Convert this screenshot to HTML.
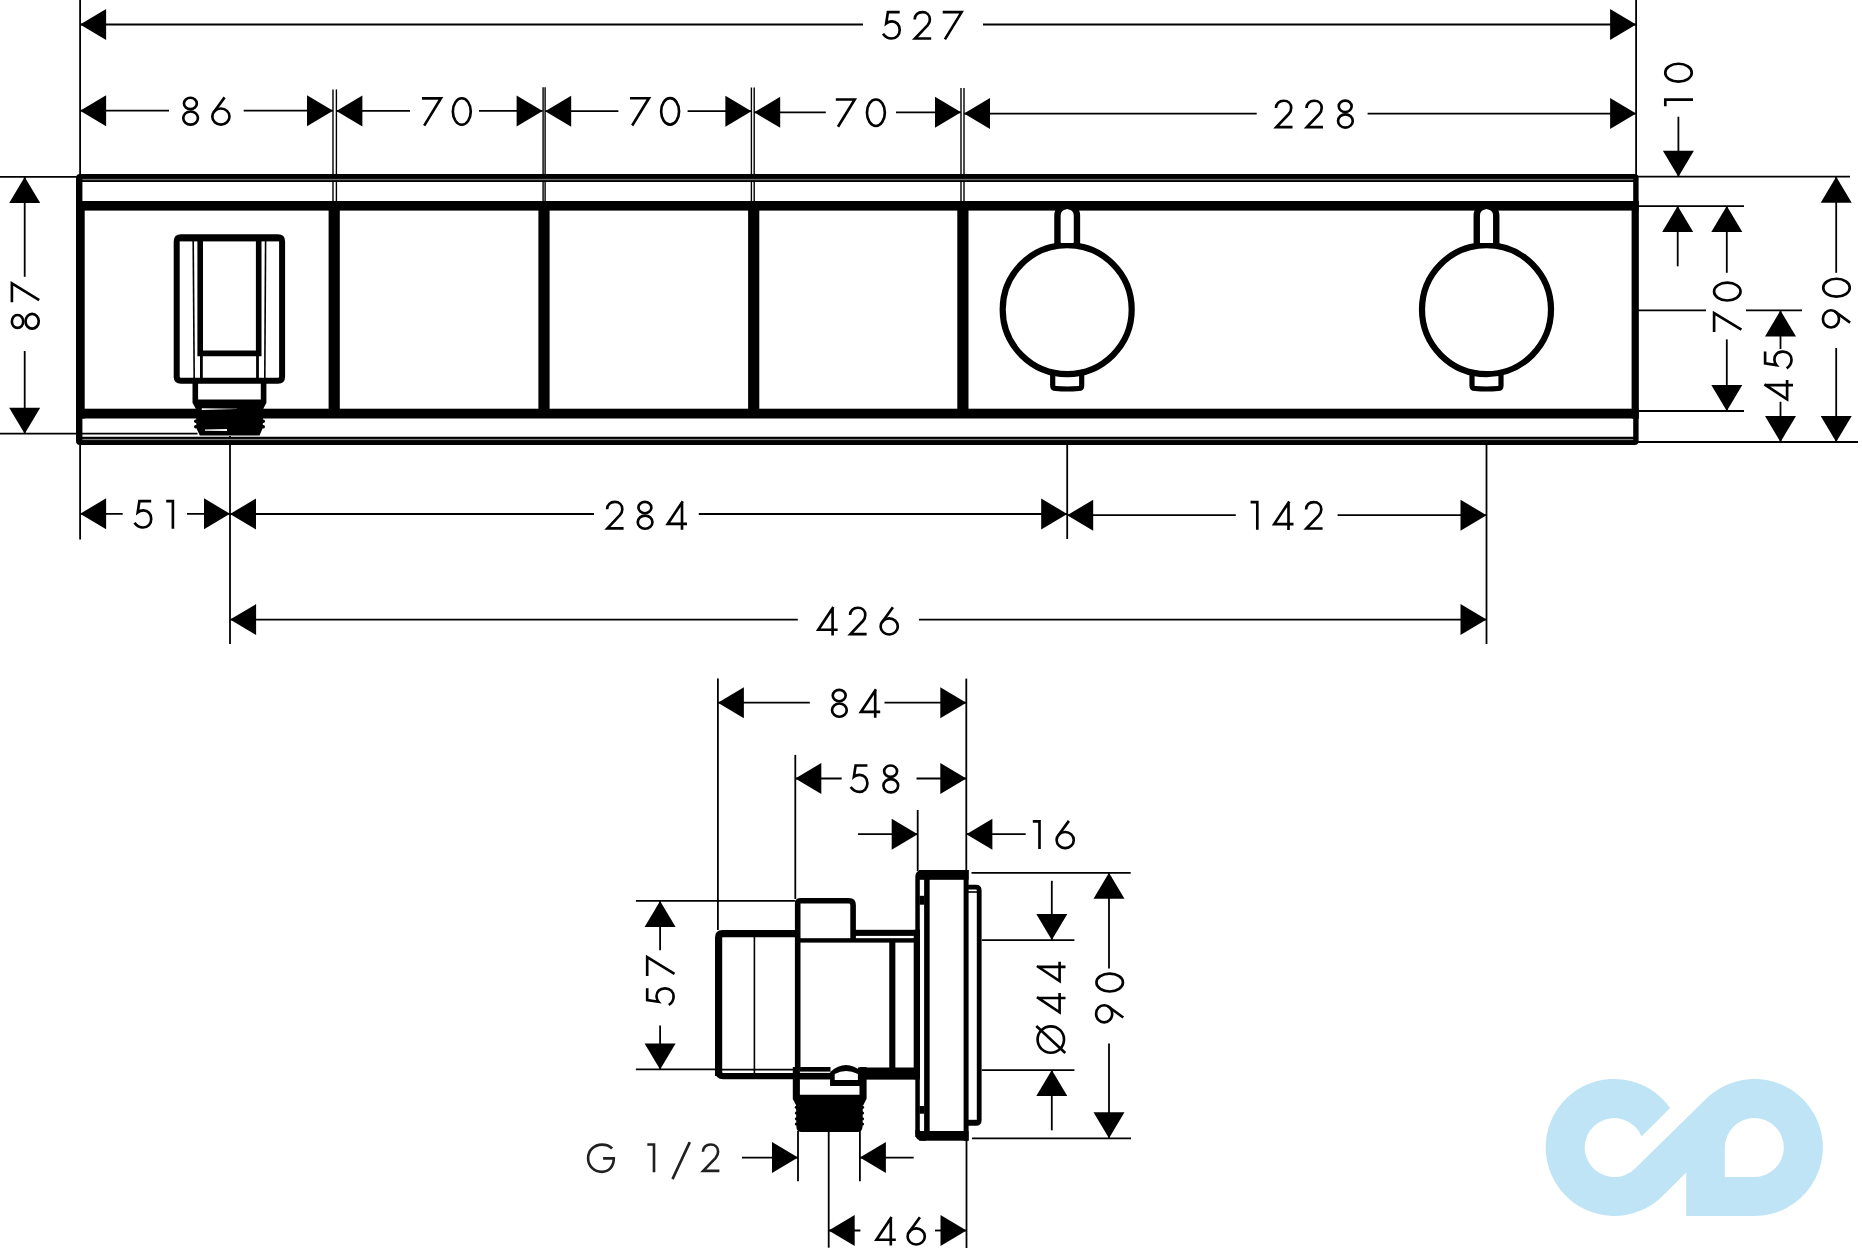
<!DOCTYPE html>
<html><head><meta charset="utf-8"><title>Drawing</title>
<style>html,body{margin:0;padding:0;background:#fff;overflow:hidden;font-family:"Liberation Sans",sans-serif}
svg{display:block}</style></head>
<body>
<svg width="1862" height="1256" viewBox="0 0 1862 1256"><line x1="80.1" y1="0" x2="80.1" y2="176" stroke="#000" stroke-width="1.8" stroke-linecap="butt"/>
<line x1="80.1" y1="444" x2="80.1" y2="539.5" stroke="#000" stroke-width="1.8" stroke-linecap="butt"/>
<line x1="1636.1" y1="0" x2="1636.1" y2="176" stroke="#000" stroke-width="1.8" stroke-linecap="butt"/>
<line x1="333" y1="89.4" x2="333" y2="201" stroke="#000" stroke-width="1.4" stroke-linecap="butt"/>
<line x1="336.4" y1="89.4" x2="336.4" y2="201" stroke="#000" stroke-width="1.4" stroke-linecap="butt"/>
<line x1="543.1" y1="87.2" x2="543.1" y2="201" stroke="#000" stroke-width="1.4" stroke-linecap="butt"/>
<line x1="545.1" y1="87.2" x2="545.1" y2="201" stroke="#000" stroke-width="1.4" stroke-linecap="butt"/>
<line x1="751.4" y1="87.5" x2="751.4" y2="201" stroke="#000" stroke-width="1.4" stroke-linecap="butt"/>
<line x1="754.2" y1="87.5" x2="754.2" y2="201" stroke="#000" stroke-width="1.4" stroke-linecap="butt"/>
<line x1="961" y1="88" x2="961" y2="201" stroke="#000" stroke-width="1.4" stroke-linecap="butt"/>
<line x1="964" y1="88" x2="964" y2="201" stroke="#000" stroke-width="1.4" stroke-linecap="butt"/>
<line x1="230" y1="436" x2="230" y2="644" stroke="#000" stroke-width="1.8" stroke-linecap="butt"/>
<line x1="1067.2" y1="444" x2="1067.2" y2="539" stroke="#000" stroke-width="1.8" stroke-linecap="butt"/>
<line x1="1486.5" y1="444" x2="1486.5" y2="644" stroke="#000" stroke-width="1.8" stroke-linecap="butt"/>
<line x1="0" y1="176.9" x2="78" y2="176.9" stroke="#000" stroke-width="1.8" stroke-linecap="butt"/>
<line x1="1638" y1="176.7" x2="1850" y2="176.7" stroke="#000" stroke-width="1.8" stroke-linecap="butt"/>
<line x1="0" y1="433.7" x2="197.5" y2="433.7" stroke="#000" stroke-width="1.8" stroke-linecap="butt"/>
<line x1="1638" y1="206.1" x2="1744" y2="206.1" stroke="#000" stroke-width="1.8" stroke-linecap="butt"/>
<line x1="1638" y1="310.4" x2="1706" y2="310.4" stroke="#000" stroke-width="1.8" stroke-linecap="butt"/>
<line x1="1746" y1="310.4" x2="1802" y2="310.4" stroke="#000" stroke-width="1.8" stroke-linecap="butt"/>
<line x1="1638" y1="411" x2="1744" y2="411" stroke="#000" stroke-width="1.8" stroke-linecap="butt"/>
<line x1="1638" y1="442" x2="1858" y2="442" stroke="#000" stroke-width="1.8" stroke-linecap="butt"/>
<line x1="80" y1="24.5" x2="863" y2="24.5" stroke="#000" stroke-width="1.8" stroke-linecap="butt"/>
<line x1="983" y1="24.5" x2="1636" y2="24.5" stroke="#000" stroke-width="1.8" stroke-linecap="butt"/>
<polygon points="80.1,24.5 106.1,9 106.1,40" fill="#000"/>
<polygon points="1636.1,24.5 1610.1,9 1610.1,40" fill="#000"/>
<g transform="translate(881.8,10.8)" fill="none" stroke="#000" stroke-width="2.65" stroke-miterlimit="3"><path d="M17.9,1.3 H6.1 L4.4,12.6 C6,11.3 7.9,10.6 10.1,10.6 C14.6,10.6 17.9,14 17.9,19.1 C17.9,24.3 14.5,27.7 9.8,27.7 C6.1,27.7 3.3,25.9 1.2,22.9"/></g>
<g transform="translate(913.4,10.8)" fill="none" stroke="#000" stroke-width="2.65" stroke-miterlimit="3"><path d="M1.3,8.6 C1.3,4.1 4.6,1.3 9,1.3 C13.4,1.3 16.5,4.3 16.5,8.6 C16.5,11.1 15.6,12.9 14.1,14.6 L1.6,27.7 H17.8"/></g>
<g transform="translate(942.7,10.8)" fill="none" stroke="#000" stroke-width="2.65" stroke-miterlimit="3"><path d="M0,1.3 H18.9 L2.2,28.6"/></g>
<line x1="80" y1="110.7" x2="169" y2="110.7" stroke="#000" stroke-width="1.8" stroke-linecap="butt"/>
<line x1="243.7" y1="110.7" x2="333" y2="110.7" stroke="#000" stroke-width="1.8" stroke-linecap="butt"/>
<polygon points="80.1,110.7 106.1,95.2 106.1,126.2" fill="#000"/>
<polygon points="333,110.7 307,95.2 307,126.2" fill="#000"/>
<g transform="translate(182,96.5)" fill="none" stroke="#000" stroke-width="2.65" stroke-miterlimit="3"><ellipse cx="8.4" cy="6.95" rx="6.45" ry="5.7"/><ellipse cx="8.6" cy="21.55" rx="7.35" ry="6.6"/></g>
<g transform="translate(211,96.5)" fill="none" stroke="#000" stroke-width="2.65" stroke-miterlimit="3"><path d="M13.6,0.9 L2.4,16.3"/><ellipse cx="9.9" cy="20.05" rx="8.6" ry="8.05"/></g>
<line x1="336.4" y1="110.9" x2="410" y2="110.9" stroke="#000" stroke-width="1.8" stroke-linecap="butt"/>
<line x1="479" y1="110.9" x2="542.6" y2="110.9" stroke="#000" stroke-width="1.8" stroke-linecap="butt"/>
<polygon points="336.4,110.9 362.4,95.4 362.4,126.4" fill="#000"/>
<polygon points="542.6,110.9 516.6,95.4 516.6,126.4" fill="#000"/>
<g transform="translate(422,97)" fill="none" stroke="#000" stroke-width="2.65" stroke-miterlimit="3"><path d="M0,1.3 H18.9 L2.2,28.6"/></g>
<g transform="translate(451.6,97)" fill="none" stroke="#000" stroke-width="2.65" stroke-miterlimit="3"><ellipse cx="10.2" cy="14.5" rx="8.95" ry="13.25"/></g>
<line x1="545.2" y1="111.2" x2="618.4" y2="111.2" stroke="#000" stroke-width="1.8" stroke-linecap="butt"/>
<line x1="687.6" y1="111.2" x2="751.4" y2="111.2" stroke="#000" stroke-width="1.8" stroke-linecap="butt"/>
<polygon points="545.2,111.2 571.2,95.7 571.2,126.7" fill="#000"/>
<polygon points="751.4,111.2 725.4,95.7 725.4,126.7" fill="#000"/>
<g transform="translate(630,96.9)" fill="none" stroke="#000" stroke-width="2.65" stroke-miterlimit="3"><path d="M0,1.3 H18.9 L2.2,28.6"/></g>
<g transform="translate(659.9,96.9)" fill="none" stroke="#000" stroke-width="2.65" stroke-miterlimit="3"><ellipse cx="10.2" cy="14.5" rx="8.95" ry="13.25"/></g>
<line x1="754.2" y1="112.3" x2="825.8" y2="112.3" stroke="#000" stroke-width="1.8" stroke-linecap="butt"/>
<line x1="896" y1="112.3" x2="961" y2="112.3" stroke="#000" stroke-width="1.8" stroke-linecap="butt"/>
<polygon points="754.2,112.3 780.2,96.8 780.2,127.8" fill="#000"/>
<polygon points="961,112.3 935,96.8 935,127.8" fill="#000"/>
<g transform="translate(835.8,98.2)" fill="none" stroke="#000" stroke-width="2.65" stroke-miterlimit="3"><path d="M0,1.3 H18.9 L2.2,28.6"/></g>
<g transform="translate(865.7,98.2)" fill="none" stroke="#000" stroke-width="2.65" stroke-miterlimit="3"><ellipse cx="10.2" cy="14.5" rx="8.95" ry="13.25"/></g>
<line x1="964" y1="113.6" x2="1256.7" y2="113.6" stroke="#000" stroke-width="1.8" stroke-linecap="butt"/>
<line x1="1367.6" y1="113.6" x2="1636" y2="113.6" stroke="#000" stroke-width="1.8" stroke-linecap="butt"/>
<polygon points="964,113.6 990,98.1 990,129.1" fill="#000"/>
<polygon points="1636.1,113.6 1610.1,98.1 1610.1,129.1" fill="#000"/>
<g transform="translate(1274.7,99.4)" fill="none" stroke="#000" stroke-width="2.65" stroke-miterlimit="3"><path d="M1.3,8.6 C1.3,4.1 4.6,1.3 9,1.3 C13.4,1.3 16.5,4.3 16.5,8.6 C16.5,11.1 15.6,12.9 14.1,14.6 L1.6,27.7 H17.8"/></g>
<g transform="translate(1305.2,99.4)" fill="none" stroke="#000" stroke-width="2.65" stroke-miterlimit="3"><path d="M1.3,8.6 C1.3,4.1 4.6,1.3 9,1.3 C13.4,1.3 16.5,4.3 16.5,8.6 C16.5,11.1 15.6,12.9 14.1,14.6 L1.6,27.7 H17.8"/></g>
<g transform="translate(1336.8,99.4)" fill="none" stroke="#000" stroke-width="2.65" stroke-miterlimit="3"><ellipse cx="8.4" cy="6.95" rx="6.45" ry="5.7"/><ellipse cx="8.6" cy="21.55" rx="7.35" ry="6.6"/></g>
<line x1="80" y1="513.8" x2="122.7" y2="513.8" stroke="#000" stroke-width="1.8" stroke-linecap="butt"/>
<line x1="187" y1="513.8" x2="230" y2="513.8" stroke="#000" stroke-width="1.8" stroke-linecap="butt"/>
<polygon points="80.1,513.8 106.1,498.3 106.1,529.3" fill="#000"/>
<polygon points="230,513.8 204,498.3 204,529.3" fill="#000"/>
<g transform="translate(133.3,499.8)" fill="none" stroke="#000" stroke-width="2.65" stroke-miterlimit="3"><path d="M17.9,1.3 H6.1 L4.4,12.6 C6,11.3 7.9,10.6 10.1,10.6 C14.6,10.6 17.9,14 17.9,19.1 C17.9,24.3 14.5,27.7 9.8,27.7 C6.1,27.7 3.3,25.9 1.2,22.9"/></g>
<g transform="translate(166.2,499.8)" fill="none" stroke="#000" stroke-width="2.65" stroke-miterlimit="3"><path d="M0,1.3 H6.7 V29"/></g>
<line x1="230" y1="514" x2="594" y2="514" stroke="#000" stroke-width="1.8" stroke-linecap="butt"/>
<line x1="698.8" y1="514" x2="1067.2" y2="514" stroke="#000" stroke-width="1.8" stroke-linecap="butt"/>
<polygon points="230,514 256,498.5 256,529.5" fill="#000"/>
<polygon points="1067.2,514 1041.2,498.5 1041.2,529.5" fill="#000"/>
<g transform="translate(605.8,500.6)" fill="none" stroke="#000" stroke-width="2.65" stroke-miterlimit="3"><path d="M1.3,8.6 C1.3,4.1 4.6,1.3 9,1.3 C13.4,1.3 16.5,4.3 16.5,8.6 C16.5,11.1 15.6,12.9 14.1,14.6 L1.6,27.7 H17.8"/></g>
<g transform="translate(636.5,500.6)" fill="none" stroke="#000" stroke-width="2.65" stroke-miterlimit="3"><ellipse cx="8.4" cy="6.95" rx="6.45" ry="5.7"/><ellipse cx="8.6" cy="21.55" rx="7.35" ry="6.6"/></g>
<g transform="translate(666.4,500.6)" fill="none" stroke="#000" stroke-width="2.65" stroke-miterlimit="3"><path d="M15.6,29.2 V2.5 M16.4,0.6 L1.3,23.3 H20.6"/></g>
<line x1="1067.2" y1="515.2" x2="1235.8" y2="515.2" stroke="#000" stroke-width="1.8" stroke-linecap="butt"/>
<line x1="1337.6" y1="515.2" x2="1486.5" y2="515.2" stroke="#000" stroke-width="1.8" stroke-linecap="butt"/>
<polygon points="1067.2,515.2 1093.2,499.7 1093.2,530.7" fill="#000"/>
<polygon points="1486.5,515.2 1460.5,499.7 1460.5,530.7" fill="#000"/>
<g transform="translate(1250.6,500.8)" fill="none" stroke="#000" stroke-width="2.65" stroke-miterlimit="3"><path d="M0,1.3 H6.7 V29"/></g>
<g transform="translate(1272.9,500.8)" fill="none" stroke="#000" stroke-width="2.65" stroke-miterlimit="3"><path d="M15.6,29.2 V2.5 M16.4,0.6 L1.3,23.3 H20.6"/></g>
<g transform="translate(1304.8,500.8)" fill="none" stroke="#000" stroke-width="2.65" stroke-miterlimit="3"><path d="M1.3,8.6 C1.3,4.1 4.6,1.3 9,1.3 C13.4,1.3 16.5,4.3 16.5,8.6 C16.5,11.1 15.6,12.9 14.1,14.6 L1.6,27.7 H17.8"/></g>
<line x1="230" y1="619.6" x2="797.8" y2="619.6" stroke="#000" stroke-width="1.8" stroke-linecap="butt"/>
<line x1="919" y1="619.6" x2="1486.5" y2="619.6" stroke="#000" stroke-width="1.8" stroke-linecap="butt"/>
<polygon points="230.1,619.6 256.1,604.1 256.1,635.1" fill="#000"/>
<polygon points="1486.5,619.6 1460.5,604.1 1460.5,635.1" fill="#000"/>
<g transform="translate(817,606.4)" fill="none" stroke="#000" stroke-width="2.65" stroke-miterlimit="3"><path d="M15.6,29.2 V2.5 M16.4,0.6 L1.3,23.3 H20.6"/></g>
<g transform="translate(848.8,606.4)" fill="none" stroke="#000" stroke-width="2.65" stroke-miterlimit="3"><path d="M1.3,8.6 C1.3,4.1 4.6,1.3 9,1.3 C13.4,1.3 16.5,4.3 16.5,8.6 C16.5,11.1 15.6,12.9 14.1,14.6 L1.6,27.7 H17.8"/></g>
<g transform="translate(879.3,606.4)" fill="none" stroke="#000" stroke-width="2.65" stroke-miterlimit="3"><path d="M13.6,0.9 L2.4,16.3"/><ellipse cx="9.9" cy="20.05" rx="8.6" ry="8.05"/></g>
<line x1="24.7" y1="177" x2="24.7" y2="276.8" stroke="#000" stroke-width="1.8" stroke-linecap="butt"/>
<line x1="24.7" y1="351" x2="24.7" y2="434" stroke="#000" stroke-width="1.8" stroke-linecap="butt"/>
<polygon points="24.7,176.9 9.2,202.9 40.2,202.9" fill="#000"/>
<polygon points="24.7,433.7 9.2,407.7 40.2,407.7" fill="#000"/>
<g transform="translate(10.6,329.9) rotate(-90)" fill="none" stroke="#000" stroke-width="2.65" stroke-miterlimit="3"><ellipse cx="8.4" cy="6.95" rx="6.45" ry="5.7"/><ellipse cx="8.6" cy="21.55" rx="7.35" ry="6.6"/></g>
<g transform="translate(10.6,302.3) rotate(-90)" fill="none" stroke="#000" stroke-width="2.65" stroke-miterlimit="3"><path d="M0,1.3 H18.9 L2.2,28.6"/></g>
<line x1="1678.4" y1="116.7" x2="1678.4" y2="176" stroke="#000" stroke-width="1.8" stroke-linecap="butt"/>
<polygon points="1678.4,176.7 1662.9,150.7 1693.9,150.7" fill="#000"/>
<g transform="translate(1664,106.3) rotate(-90)" fill="none" stroke="#000" stroke-width="2.65" stroke-miterlimit="3"><path d="M0,1.3 H6.7 V29"/></g>
<g transform="translate(1664,82.9) rotate(-90)" fill="none" stroke="#000" stroke-width="2.65" stroke-miterlimit="3"><ellipse cx="10.2" cy="14.5" rx="8.95" ry="13.25"/></g>
<line x1="1677.7" y1="206" x2="1677.7" y2="266.3" stroke="#000" stroke-width="1.8" stroke-linecap="butt"/>
<polygon points="1677.7,206.1 1662.2,232.1 1693.2,232.1" fill="#000"/>
<line x1="1726.8" y1="206" x2="1726.8" y2="272.8" stroke="#000" stroke-width="1.8" stroke-linecap="butt"/>
<line x1="1726.8" y1="339.4" x2="1726.8" y2="411" stroke="#000" stroke-width="1.8" stroke-linecap="butt"/>
<polygon points="1726.8,206.1 1711.3,232.1 1742.3,232.1" fill="#000"/>
<polygon points="1726.8,411 1711.3,385 1742.3,385" fill="#000"/>
<g transform="translate(1712.8,331.9) rotate(-90)" fill="none" stroke="#000" stroke-width="2.65" stroke-miterlimit="3"><path d="M0,1.3 H18.9 L2.2,28.6"/></g>
<g transform="translate(1712.8,301.8) rotate(-90)" fill="none" stroke="#000" stroke-width="2.65" stroke-miterlimit="3"><ellipse cx="10.2" cy="14.5" rx="8.95" ry="13.25"/></g>
<line x1="1780.5" y1="310.4" x2="1780.5" y2="349" stroke="#000" stroke-width="1.8" stroke-linecap="butt"/>
<line x1="1780.5" y1="401.8" x2="1780.5" y2="442" stroke="#000" stroke-width="1.8" stroke-linecap="butt"/>
<polygon points="1780.5,310.4 1765,336.4 1796,336.4" fill="#000"/>
<polygon points="1780.5,442 1765,416 1796,416" fill="#000"/>
<g transform="translate(1763.8,400.7) rotate(-90)" fill="none" stroke="#000" stroke-width="2.65" stroke-miterlimit="3"><path d="M15.6,29.2 V2.5 M16.4,0.6 L1.3,23.3 H20.6"/></g>
<g transform="translate(1763.8,369.5) rotate(-90)" fill="none" stroke="#000" stroke-width="2.65" stroke-miterlimit="3"><path d="M17.9,1.3 H6.1 L4.4,12.6 C6,11.3 7.9,10.6 10.1,10.6 C14.6,10.6 17.9,14 17.9,19.1 C17.9,24.3 14.5,27.7 9.8,27.7 C6.1,27.7 3.3,25.9 1.2,22.9"/></g>
<line x1="1836.2" y1="177" x2="1836.2" y2="272.8" stroke="#000" stroke-width="1.8" stroke-linecap="butt"/>
<line x1="1836.2" y1="348" x2="1836.2" y2="442" stroke="#000" stroke-width="1.8" stroke-linecap="butt"/>
<polygon points="1836.2,176.7 1820.7,202.7 1851.7,202.7" fill="#000"/>
<polygon points="1836.2,442 1820.7,416 1851.7,416" fill="#000"/>
<g transform="translate(1822,328.8) rotate(-90)" fill="none" stroke="#000" stroke-width="2.65" stroke-miterlimit="3"><path d="M6.2,28.1 L17.4,12.7"/><ellipse cx="9.9" cy="8.95" rx="8.6" ry="8.05"/></g>
<g transform="translate(1822,297.9) rotate(-90)" fill="none" stroke="#000" stroke-width="2.65" stroke-miterlimit="3"><ellipse cx="10.2" cy="14.5" rx="8.95" ry="13.25"/></g>
<path d="M80,174 H1634.6 Q1638.6,174 1638.6,178 V440.9 Q1638.6,444.9 1634.6,444.9 H80 Q76,444.9 76,440.9 V178 Q76,174 80,174 Z M82.4,181.9 V436.8 H1633.2 V181.9 Z" fill="#000" fill-rule="evenodd"/>
<rect x="82.4" y="178.85" width="1550.8" height="1.35" fill="#707070"/>
<rect x="82.4" y="438.9" width="1550.8" height="1.2" fill="#808080"/>
<rect x="76" y="201" width="1562.6" height="9.6" fill="#000"/>
<rect x="76" y="408.7" width="1562.6" height="9.8" fill="#000"/>
<rect x="76" y="201" width="8.7" height="217.5" fill="#000"/>
<rect x="1631.6" y="201" width="7" height="217.5" fill="#000"/>
<rect x="328.6" y="205" width="11.2" height="209" fill="#000"/>
<rect x="538.4" y="205" width="11.2" height="209" fill="#000"/>
<rect x="748.1" y="205" width="11.2" height="209" fill="#000"/>
<rect x="957.3" y="205" width="11.2" height="209" fill="#000"/>
<circle cx="1067.2" cy="309.6" r="64.5" fill="none" stroke="#000" stroke-width="6.2"/>
<path d="M1060.65,243 V215.45 A6.55,6.55 0 0 1 1073.75,215.45 V243 Z" fill="#fff" />
<path d="M1057.45,246 V215.45 A9.75,9.75 0 0 1 1076.95,215.45 V246" fill="none" stroke="#000" stroke-width="6.4" />
<path d="M1052.7,374 V385.5 Q1052.7,388.5 1055.7,388.5 Q1067.2,389.5 1078.7,388.5 Q1081.7,388.5 1081.7,385.5 V374" fill="none" stroke="#000" stroke-width="5.2" />
<circle cx="1486.5" cy="309.6" r="64.5" fill="none" stroke="#000" stroke-width="6.2"/>
<path d="M1479.95,243 V215.45 A6.55,6.55 0 0 1 1493.05,215.45 V243 Z" fill="#fff" />
<path d="M1476.75,246 V215.45 A9.75,9.75 0 0 1 1496.25,215.45 V246" fill="none" stroke="#000" stroke-width="6.4" />
<path d="M1472,374 V385.5 Q1472,388.5 1475,388.5 Q1486.5,389.5 1498,388.5 Q1501,388.5 1501,385.5 V374" fill="none" stroke="#000" stroke-width="5.2" />
<path d="M176.7,378 V241.5 Q176.7,237.3 181,237.3 H278 Q282.1,237.3 282.1,241.5 V376.5 Q282.1,380.8 278,380.8 H181 Q176.7,380.8 176.7,376.5 Z" fill="none" stroke="#000" stroke-width="6" />
<rect x="179.7" y="239" width="99.5" height="2.4" fill="#000"/>
<line x1="193.2" y1="241" x2="194.2" y2="378" stroke="#000" stroke-width="1.6" stroke-linecap="butt"/>
<line x1="265.6" y1="241" x2="264.8" y2="378" stroke="#000" stroke-width="1.6" stroke-linecap="butt"/>
<path d="M200.2,240 V353.4 H258.7 V240" fill="none" stroke="#000" stroke-width="5.6" stroke-linejoin="miter"/>
<line x1="201.4" y1="353.4" x2="201.4" y2="378" stroke="#000" stroke-width="2.8" stroke-linecap="butt"/>
<line x1="257.5" y1="353.4" x2="257.5" y2="378" stroke="#000" stroke-width="2.8" stroke-linecap="butt"/>
<path d="M195.3,383 V402 L198.5,408 M263.6,383 V402 L260.5,408" fill="none" stroke="#000" stroke-width="5.6" />
<path d="M196,399.6 H263 L263.2,408 L262.8,428 L260.8,432.5 L259.6,435.6 H199.8 L198.4,432.5 L196.3,428 L196,408 Z" fill="#000" />
<path d="M195.3,402 L196,408 H263 L263.6,402 Z" fill="#000" />
<circle cx="195.7" cy="421.3" r="1.7" fill="#000"/>
<circle cx="263.3" cy="421.3" r="1.7" fill="#000"/>
<circle cx="195.7" cy="426.8" r="1.7" fill="#000"/>
<circle cx="263.3" cy="426.8" r="1.7" fill="#000"/>
<path d="M201.8,408.2 L237,408.7 L237,409.1 L201.8,410 Z" fill="#fff" />
<path d="M205,429.6 L227,428.9 L227,430.9 L205,430.7 Z" fill="#fff" />
<line x1="717.9" y1="678.6" x2="717.9" y2="930" stroke="#000" stroke-width="1.8" stroke-linecap="butt"/>
<line x1="966.3" y1="678.6" x2="966.3" y2="871" stroke="#000" stroke-width="1.8" stroke-linecap="butt"/>
<line x1="966.5" y1="1140" x2="966.5" y2="1248" stroke="#000" stroke-width="1.8" stroke-linecap="butt"/>
<line x1="795.3" y1="754.9" x2="795.3" y2="899" stroke="#000" stroke-width="1.8" stroke-linecap="butt"/>
<line x1="917.7" y1="810" x2="917.7" y2="871" stroke="#000" stroke-width="1.8" stroke-linecap="butt"/>
<line x1="798" y1="1131" x2="798" y2="1181.3" stroke="#000" stroke-width="1.8" stroke-linecap="butt"/>
<line x1="859.9" y1="1131" x2="859.9" y2="1181.3" stroke="#000" stroke-width="1.8" stroke-linecap="butt"/>
<line x1="828.7" y1="1131" x2="828.7" y2="1247.7" stroke="#000" stroke-width="1.8" stroke-linecap="butt"/>
<line x1="635.9" y1="900.9" x2="795.3" y2="900.9" stroke="#000" stroke-width="1.8" stroke-linecap="butt"/>
<line x1="635.9" y1="1069.4" x2="716" y2="1069.4" stroke="#000" stroke-width="1.8" stroke-linecap="butt"/>
<line x1="971.5" y1="872.8" x2="1130.7" y2="872.8" stroke="#000" stroke-width="1.8" stroke-linecap="butt"/>
<line x1="981.9" y1="940.1" x2="1074.4" y2="940.1" stroke="#000" stroke-width="1.8" stroke-linecap="butt"/>
<line x1="981.8" y1="1070.1" x2="1074.4" y2="1070.1" stroke="#000" stroke-width="1.8" stroke-linecap="butt"/>
<line x1="972" y1="1138.3" x2="1131" y2="1138.3" stroke="#000" stroke-width="1.8" stroke-linecap="butt"/>
<line x1="718" y1="702.7" x2="809.8" y2="702.7" stroke="#000" stroke-width="1.8" stroke-linecap="butt"/>
<line x1="884.5" y1="702.7" x2="966.3" y2="702.7" stroke="#000" stroke-width="1.8" stroke-linecap="butt"/>
<polygon points="717.9,702.7 743.9,687.2 743.9,718.2" fill="#000"/>
<polygon points="966.3,702.7 940.3,687.2 940.3,718.2" fill="#000"/>
<g transform="translate(830.8,688.6)" fill="none" stroke="#000" stroke-width="2.65" stroke-miterlimit="3"><ellipse cx="8.4" cy="6.95" rx="6.45" ry="5.7"/><ellipse cx="8.6" cy="21.55" rx="7.35" ry="6.6"/></g>
<g transform="translate(859.6,688.6)" fill="none" stroke="#000" stroke-width="2.65" stroke-miterlimit="3"><path d="M15.6,29.2 V2.5 M16.4,0.6 L1.3,23.3 H20.6"/></g>
<line x1="795.3" y1="778.5" x2="841.7" y2="778.5" stroke="#000" stroke-width="1.8" stroke-linecap="butt"/>
<line x1="916.5" y1="778.5" x2="966.3" y2="778.5" stroke="#000" stroke-width="1.8" stroke-linecap="butt"/>
<polygon points="795.3,778.5 821.3,763 821.3,794" fill="#000"/>
<polygon points="966.3,778.5 940.3,763 940.3,794" fill="#000"/>
<g transform="translate(849.5,764.2)" fill="none" stroke="#000" stroke-width="2.65" stroke-miterlimit="3"><path d="M17.9,1.3 H6.1 L4.4,12.6 C6,11.3 7.9,10.6 10.1,10.6 C14.6,10.6 17.9,14 17.9,19.1 C17.9,24.3 14.5,27.7 9.8,27.7 C6.1,27.7 3.3,25.9 1.2,22.9"/></g>
<g transform="translate(882.2,764.2)" fill="none" stroke="#000" stroke-width="2.65" stroke-miterlimit="3"><ellipse cx="8.4" cy="6.95" rx="6.45" ry="5.7"/><ellipse cx="8.6" cy="21.55" rx="7.35" ry="6.6"/></g>
<line x1="858" y1="834.2" x2="917.7" y2="834.2" stroke="#000" stroke-width="1.8" stroke-linecap="butt"/>
<polygon points="917.7,834.2 891.7,818.7 891.7,849.7" fill="#000"/>
<line x1="966.4" y1="834.2" x2="1025.7" y2="834.2" stroke="#000" stroke-width="1.8" stroke-linecap="butt"/>
<polygon points="966.4,834.2 992.4,818.7 992.4,849.7" fill="#000"/>
<g transform="translate(1032.8,820)" fill="none" stroke="#000" stroke-width="2.65" stroke-miterlimit="3"><path d="M0,1.3 H6.7 V29"/></g>
<g transform="translate(1055.3,820)" fill="none" stroke="#000" stroke-width="2.65" stroke-miterlimit="3"><path d="M13.6,0.9 L2.4,16.3"/><ellipse cx="9.9" cy="20.05" rx="8.6" ry="8.05"/></g>
<line x1="742" y1="1157.6" x2="798" y2="1157.6" stroke="#000" stroke-width="1.8" stroke-linecap="butt"/>
<polygon points="798,1157.6 772,1142.1 772,1173.1" fill="#000"/>
<line x1="860" y1="1157.6" x2="913.7" y2="1157.6" stroke="#000" stroke-width="1.8" stroke-linecap="butt"/>
<polygon points="859.9,1157.6 885.9,1142.1 885.9,1173.1" fill="#000"/>
<g opacity="0.87">
<g transform="translate(586.8,1143.3)" fill="none" stroke="#000" stroke-width="2.65" stroke-miterlimit="3"><path d="M25.3,5.2 C22.8,2.6 19.3,1.3 15.2,1.3 C7.3,1.3 1.3,7.2 1.3,14.9 C1.3,22.6 7.3,28.5 14.9,28.5 C22.3,28.5 27,23.2 27,15 H16.3"/></g>
<g transform="translate(647.3,1143.2)" fill="none" stroke="#000" stroke-width="2.65" stroke-miterlimit="3"><path d="M0,1.3 H6.7 V29"/></g>
<g transform="translate(671.8,1141.5)" fill="none" stroke="#000" stroke-width="2.65" stroke-miterlimit="3"><path d="M18,0.6 L0.7,37.6"/></g>
<g transform="translate(701.6,1143.2)" fill="none" stroke="#000" stroke-width="2.65" stroke-miterlimit="3"><path d="M1.3,8.6 C1.3,4.1 4.6,1.3 9,1.3 C13.4,1.3 16.5,4.3 16.5,8.6 C16.5,11.1 15.6,12.9 14.1,14.6 L1.6,27.7 H17.8"/></g>
</g>
<line x1="828.7" y1="1230.5" x2="860.4" y2="1230.5" stroke="#000" stroke-width="1.8" stroke-linecap="butt"/>
<line x1="935" y1="1230.5" x2="966.5" y2="1230.5" stroke="#000" stroke-width="1.8" stroke-linecap="butt"/>
<polygon points="828.7,1230.5 854.7,1215 854.7,1246" fill="#000"/>
<polygon points="966.5,1230.5 940.5,1215 940.5,1246" fill="#000"/>
<g transform="translate(875.2,1216.4)" fill="none" stroke="#000" stroke-width="2.65" stroke-miterlimit="3"><path d="M15.6,29.2 V2.5 M16.4,0.6 L1.3,23.3 H20.6"/></g>
<g transform="translate(906.3,1216.4)" fill="none" stroke="#000" stroke-width="2.65" stroke-miterlimit="3"><path d="M13.6,0.9 L2.4,16.3"/><ellipse cx="9.9" cy="20.05" rx="8.6" ry="8.05"/></g>
<line x1="660.1" y1="900.9" x2="660.1" y2="950.2" stroke="#000" stroke-width="1.8" stroke-linecap="butt"/>
<line x1="660.1" y1="1025.4" x2="660.1" y2="1069.4" stroke="#000" stroke-width="1.8" stroke-linecap="butt"/>
<polygon points="660.1,900.9 644.6,926.9 675.6,926.9" fill="#000"/>
<polygon points="660.1,1069.4 644.6,1043.4 675.6,1043.4" fill="#000"/>
<g transform="translate(645.9,1006.2) rotate(-90)" fill="none" stroke="#000" stroke-width="2.65" stroke-miterlimit="3"><path d="M17.9,1.3 H6.1 L4.4,12.6 C6,11.3 7.9,10.6 10.1,10.6 C14.6,10.6 17.9,14 17.9,19.1 C17.9,24.3 14.5,27.7 9.8,27.7 C6.1,27.7 3.3,25.9 1.2,22.9"/></g>
<g transform="translate(645.9,976.1) rotate(-90)" fill="none" stroke="#000" stroke-width="2.65" stroke-miterlimit="3"><path d="M0,1.3 H18.9 L2.2,28.6"/></g>
<line x1="1051.8" y1="880.8" x2="1051.8" y2="940" stroke="#000" stroke-width="1.8" stroke-linecap="butt"/>
<polygon points="1051.8,940.1 1036.3,914.1 1067.3,914.1" fill="#000"/>
<line x1="1051.8" y1="1070.2" x2="1051.8" y2="1130.3" stroke="#000" stroke-width="1.8" stroke-linecap="butt"/>
<polygon points="1051.8,1070.1 1036.3,1096.1 1067.3,1096.1" fill="#000"/>
<g transform="translate(1036.3,1054) rotate(-90)" fill="none" stroke="#000" stroke-width="2.65" stroke-miterlimit="3"><ellipse cx="14.5" cy="14.5" rx="13.2" ry="13.2"/><path d="M28,0 L1,29"/></g>
<g transform="translate(1036.3,1013.6) rotate(-90)" fill="none" stroke="#000" stroke-width="2.65" stroke-miterlimit="3"><path d="M15.6,29.2 V2.5 M16.4,0.6 L1.3,23.3 H20.6"/></g>
<g transform="translate(1036.3,982.4) rotate(-90)" fill="none" stroke="#000" stroke-width="2.65" stroke-miterlimit="3"><path d="M15.6,29.2 V2.5 M16.4,0.6 L1.3,23.3 H20.6"/></g>
<line x1="1109" y1="872.8" x2="1109" y2="968.6" stroke="#000" stroke-width="1.8" stroke-linecap="butt"/>
<line x1="1109" y1="1043.6" x2="1109" y2="1138.3" stroke="#000" stroke-width="1.8" stroke-linecap="butt"/>
<polygon points="1109,872.8 1093.5,898.8 1124.5,898.8" fill="#000"/>
<polygon points="1109,1138.3 1093.5,1112.3 1124.5,1112.3" fill="#000"/>
<g transform="translate(1095.2,1023.7) rotate(-90)" fill="none" stroke="#000" stroke-width="2.65" stroke-miterlimit="3"><path d="M6.2,28.1 L17.4,12.7"/><ellipse cx="9.9" cy="8.95" rx="8.6" ry="8.05"/></g>
<g transform="translate(1095.2,992.7) rotate(-90)" fill="none" stroke="#000" stroke-width="2.65" stroke-miterlimit="3"><ellipse cx="10.2" cy="14.5" rx="8.95" ry="13.25"/></g>
<path d="M718.6,1076 V937.5 Q718.6,933.6 722.5,933.6 H797" fill="none" stroke="#000" stroke-width="7.2" />
<path d="M718.6,1069 V1071.5 Q718.6,1076.1 723,1076.1 H916" fill="none" stroke="#000" stroke-width="6.4" />
<line x1="754.4" y1="936" x2="754.4" y2="1073" stroke="#000" stroke-width="1.6" stroke-linecap="butt"/>
<line x1="716" y1="1069.6" x2="793" y2="1069.6" stroke="#000" stroke-width="1.6" stroke-linecap="butt"/>
<path d="M797.7,1070 V903 Q797.7,900.7 801,900.7 H849 Q853.1,900.7 853.1,905 V940" fill="none" stroke="#000" stroke-width="5.6" />
<rect x="800" y="938.2" width="114.5" height="4.4" fill="#000"/>
<rect x="855" y="929.8" width="59.5" height="6.1" fill="#000"/>
<line x1="892.3" y1="942" x2="892.3" y2="1068" stroke="#000" stroke-width="6.1" stroke-linecap="butt"/>
<line x1="916.85" y1="929.8" x2="916.85" y2="1079.3" stroke="#000" stroke-width="6.3" stroke-linecap="butt"/>
<rect x="800" y="1067" width="30.5" height="4.6" fill="#000"/>
<rect x="800" y="1072.9" width="116" height="6.4" fill="#000"/>
<rect x="858" y="1067.5" width="58" height="11.8" fill="#000"/>
<rect x="919" y="870" width="49.6" height="9.8" fill="#000"/>
<path d="M917.55,1137 V877 Q917.55,872.25 922.5,872.25 H926" fill="none" stroke="#000" stroke-width="4.5" />
<path d="M917.55,1130 V1133.5 Q917.55,1138.45 922.5,1138.45 H926" fill="none" stroke="#000" stroke-width="4.5" />
<rect x="924.1" y="875" width="5.55" height="260" fill="#000"/>
<rect x="919.5" y="895.8" width="4.8" height="8.9" fill="#000"/>
<rect x="919.5" y="1106" width="4.8" height="7.7" fill="#000"/>
<rect x="963.6" y="870" width="5" height="270.7" fill="#000"/>
<rect x="919" y="1131" width="49.6" height="9.7" fill="#000"/>
<path d="M966,887.1 H976 Q979.2,887.1 979.2,890.5 V1120 Q979.2,1123.4 976,1123.4 H966" fill="none" stroke="#000" stroke-width="4.8" />
<line x1="968" y1="892" x2="977" y2="892" stroke="#000" stroke-width="1.6" stroke-linecap="butt"/>
<line x1="968" y1="1120.6" x2="977" y2="1120.6" stroke="#000" stroke-width="1.6" stroke-linecap="butt"/>
<path d="M796.35,1067 V1098 L799.5,1104 M863.05,1067 V1098 L860,1104" fill="none" stroke="#000" stroke-width="7.1" />
<path d="M796,1094.8 H862.9 L862.6,1126 Q862.3,1131.9 858,1131.9 H801 Q796.4,1131.9 796.3,1126 Z" fill="#000" />
<circle cx="796.4" cy="1107.3" r="1.6" fill="#000"/>
<circle cx="862.5" cy="1107.3" r="1.6" fill="#000"/>
<circle cx="796.4" cy="1113.0" r="1.6" fill="#000"/>
<circle cx="862.5" cy="1113.0" r="1.6" fill="#000"/>
<circle cx="796.4" cy="1118.8" r="1.6" fill="#000"/>
<circle cx="862.5" cy="1118.8" r="1.6" fill="#000"/>
<circle cx="796.4" cy="1124.0" r="1.6" fill="#000"/>
<circle cx="862.5" cy="1124.0" r="1.6" fill="#000"/>
<path d="M830.2,1086 V1072 Q846,1058.2 862,1072 V1086 Z" fill="#000" />
<path d="M834.7,1080 V1074 Q846,1068 857.9,1074 V1080 Z" fill="#fff" />
<rect x="830.2" y="1080" width="31.8" height="5.8" fill="#000"/>
<path d="M1670.1,1107.9 A68.5,68.5 0 1 0 1662.6,1195.9 L1686.2,1172.4 L1686.2,1216 L1754.3,1216 A68.5,68.5 0 1 0 1705.9,1099.1 L1635.1,1168.4 A29.5,29.5 0 1 1 1641.5,1136.4 Z M1724.8,1147.5 V1177 H1754.3 A29.5,29.5 0 1 0 1724.8,1147.5 Z" fill="#bfe4f6" fill-rule="evenodd"/></svg>
</body></html>
